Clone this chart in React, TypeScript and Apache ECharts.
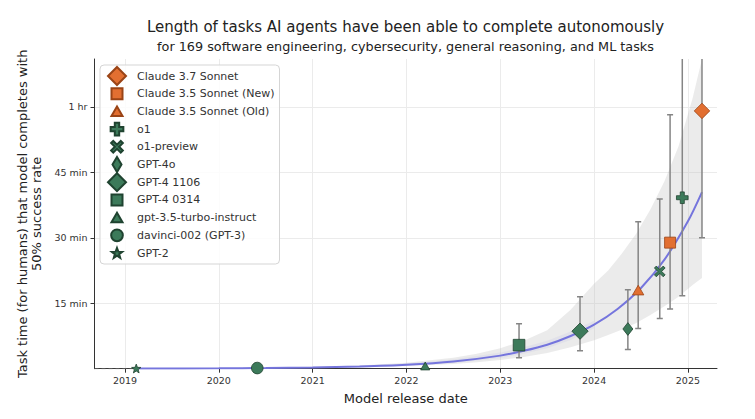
import React, { useEffect, useRef } from "react";
import * as echarts from "echarts";

// ---- data ----
const MODELS = [
  "Claude 3.7 Sonnet",
  "Claude 3.5 Sonnet (New)",
  "Claude 3.5 Sonnet (Old)",
  "o1",
  "o1-preview",
  "GPT-4o",
  "GPT-4 1106",
  "GPT-4 0314",
  "gpt-3.5-turbo-instruct",
  "davinci-002 (GPT-3)",
  "GPT-2",
];
const RELEASE = [2025.15, 2024.81, 2024.47, 2024.94, 2024.7, 2024.36, 2023.85, 2023.2, 2022.2, 2020.41, 2019.12];
const MINUTES = [59.1, 28.9, 18.0, 39.2, 22.3, 9.1, 8.6, 5.4, 0.6, 0.15, 0.04];
const CI_LOW: (number | null)[] = [30, 13.7, 9.2, 16.7, 11.5, 4.4, 4.1, 2.5, null, null, null];
const CI_HIGH: (number | null)[] = [150, 58.2, 33.7, 150, 38.9, 18.1, 16.5, 10.3, null, null, null];
const MAKER = ["anthropic", "anthropic", "anthropic", "openai", "openai", "openai", "openai", "openai", "openai", "openai", "openai"];

const TREND_DATES = [2019.12, 2020, 2020.5, 2021, 2021.5, 2022, 2022.5, 2023, 2023.25, 2023.5, 2023.75, 2024, 2024.25, 2024.5, 2024.75, 2025, 2025.15];
const TREND_MIN = [0.03, 0.08, 0.15, 0.27, 0.5, 0.9, 1.65, 3.0, 4.1, 5.5, 7.5, 10.1, 13.7, 18.5, 25, 33.8, 40.5];
const FIT_BAND_DATES = [2019.12, 2020, 2020.5, 2021, 2021.5, 2022, 2022.5, 2023, 2023.25, 2023.5, 2023.75, 2024];
const FIT_BAND_LOW = [0.02, 0.06, 0.11, 0.2, 0.38, 0.7, 1.3, 2.4, 3.4, 4.7, 6.6, 9.3];
const FIT_BAND_HIGH = [0.04, 0.1, 0.19, 0.35, 0.65, 1.2, 2.1, 3.7, 4.9, 6.4, 8.5, 11.0];
const EXTRAP_DATES = [2018.675, 2019.12];
const EXTRAP_MIN = [0.017, 0.03];

const BAND_DATES = [2018.675, 2019.5, 2020.5, 2021, 2021.5, 2022, 2022.5, 2022.75, 2023, 2023.25, 2023.5, 2023.75, 2024, 2024.15, 2024.3, 2024.45, 2024.6, 2024.75, 2024.9, 2025.05, 2025.15];
const BAND_LOW = [0.01, 0.02, 0.08, 0.15, 0.3, 0.6, 1.1, 1.5, 2.0, 2.7, 3.6, 4.9, 6.5, 7.7, 9.0, 10.5, 12.3, 14.3, 16.5, 19.2, 20.8];
const BAND_HIGH = [0.03, 0.08, 0.25, 0.45, 0.75, 1.35, 2.5, 3.4, 4.7, 6.4, 8.8, 13.5, 19.5, 22.5, 26.5, 31, 36.5, 43, 51, 62, 71];

const YEAR_TICKS = [2019, 2020, 2021, 2022, 2023, 2024, 2025];
const MINUTE_TICKS = [15, 30, 45, 60];

// ---- styling ----
const FONT = "DejaVu Sans";
const ORANGE = "#E26F31";
const ORANGE_EDGE = "#9a4416";
const GREEN = "#3C7A5A";
const GREEN_EDGE = "#1f4330";

// all marker paths live in a common 18x18 box so legend icons keep their relative sizes
const BOX = "M0,0M18,18";
const P_DIAMOND = `path://${BOX}M9,0L18,9L9,18L0,9Z`;
const P_RECT = `path://${BOX}M3.5,3.5H14.5V14.5H3.5Z`;
const P_TRI = `path://${BOX}M9,4.2L14.5,13.6L3.5,13.6Z`;
const P_PLUS = `path://${BOX}M6.8,2.65H11.2V6.8H15.35V11.2H11.2V15.35H6.8V11.2H2.65V6.8H6.8Z`;
const P_CROSS = `path://${BOX}M3.15,5.25L5.25,3.15L9,6.9L12.75,3.15L14.85,5.25L11.1,9L14.85,12.75L12.75,14.85L9,11.1L5.25,14.85L3.15,12.75L6.9,9Z`;
const P_THIN = `path://${BOX}M9,1.5L13.5,9L9,16.5L4.5,9Z`;
const P_CIRCLE = `path://${BOX}M3.15,9A5.85,5.85,0,1,1,14.85,9A5.85,5.85,0,1,1,3.15,9Z`;
const P_STAR = `path://${BOX}M9,4L10.35,7.64L14.22,7.8L11.18,10.21L12.23,13.95L9,11.79L5.77,13.95L6.82,10.21L3.78,7.8L7.65,7.64Z`;

const SYMBOLS = [P_DIAMOND, P_RECT, P_TRI, P_PLUS, P_CROSS, P_THIN, P_DIAMOND, P_RECT, P_TRI, P_CIRCLE, P_STAR];
const SIZES: any[] = [15.5, 18, 18.5, 16.5, 16.5, [20, 15.3], 16.3, 19, 15, 18, 16];

export default function App() {
  const ref = useRef<HTMLDivElement>(null);
  useEffect(() => {
    if (!ref.current) return;
    const chart = echarts.init(ref.current, undefined, { renderer: "svg" });

    const errData = MODELS.map((_, i) =>
      CI_LOW[i] == null ? null : [RELEASE[i], CI_LOW[i], CI_HIGH[i]]
    ).filter((d) => d != null);

    const bandSeries = (name: string, dates: number[], lo: number[], hi: number[], fill: string, z: number) => ({
      name,
      type: "custom",
      clip: true,
      silent: true,
      z,
      encode: { x: 0, y: [1, 2] },
      data: dates.map((d, i) => [d, lo[i], hi[i]]),
      renderItem: (params: any, api: any) => {
        if (params.dataIndex !== 0) return null;
        const upper = dates.map((d, i) => api.coord([d, hi[i]]));
        const lower = dates.map((d, i) => api.coord([d, lo[i]])).reverse();
        return {
          type: "polygon",
          shape: { points: upper.concat(lower) },
          style: { fill, stroke: "none" },
        };
      },
    });

    const scatterSeries = MODELS.map((name, i) => ({
      name,
      type: "scatter",
      symbol: SYMBOLS[i],
      symbolSize: SIZES[i],
      symbolKeepAspect: false,
      clip: true,
      z: 5,
      itemStyle: {
        color: MAKER[i] === "anthropic" ? ORANGE : GREEN,
        borderColor: MAKER[i] === "anthropic" ? ORANGE_EDGE : GREEN_EDGE,
        borderWidth: 0.8,
        opacity: 1,
      },
      data: [[RELEASE[i], MINUTES[i]]],
    }));

    const option: any = {
      animation: false,
      textStyle: { fontFamily: FONT },
      grid: { left: 94.5, right: 38, top: 59, bottom: 50.3, containLabel: false },
      graphic: [
        {
          type: "text",
          x: 405.5,
          y: 27,
          style: {
            text: "Length of tasks AI agents have been able to complete autonomously",
            textAlign: "center",
            textVerticalAlign: "middle",
            font: `15px "${FONT}"`,
            fill: "#222",
          },
        },
        {
          type: "text",
          x: 405.5,
          y: 46,
          style: {
            text: "for 169 software engineering, cybersecurity, general reasoning, and ML tasks",
            textAlign: "center",
            textVerticalAlign: "middle",
            font: `12.8px "${FONT}"`,
            fill: "#222",
          },
        },
      ],
      legend: {
        orient: "vertical",
        left: 100,
        top: 65,
        padding: [1, 5, 1, 7],
        itemWidth: 18,
        itemHeight: 18,
        itemGap: -2.3,
        backgroundColor: "rgba(255,255,255,0.85)",
        borderColor: "#d5d5d5",
        borderWidth: 1,
        borderRadius: 4,
        textStyle: { fontFamily: FONT, fontSize: 11, color: "#333", padding: [0, 0, 0, 6] },
        data: MODELS,
      },
      xAxis: {
        type: "value",
        min: 2018.675,
        max: 2025.31,
        name: "Model release date",
        nameLocation: "middle",
        nameGap: 23,
        nameTextStyle: { fontFamily: FONT, fontSize: 13, color: "#222" },
        axisLine: { show: true, onZero: false, lineStyle: { color: "#333", width: 1 } },
        axisTick: { show: true, length: 4, customValues: YEAR_TICKS, lineStyle: { color: "#333" } },
        axisLabel: {
          customValues: YEAR_TICKS,
          formatter: (v: number) => String(Math.round(v)),
          fontSize: 9.5,
          color: "#333",
          margin: 7,
          fontFamily: FONT,
        },
        splitLine: { show: true, lineStyle: { color: "#ebebeb", width: 1 } },
      },
      yAxis: {
        type: "value",
        min: 0,
        max: 71,
        name: "Task time (for humans) that model completes with\n50% success rate",
        nameLocation: "middle",
        nameGap: 50,
        nameTextStyle: { fontFamily: FONT, fontSize: 13, color: "#222", lineHeight: 14, align: "center" },
        axisLine: { show: true, lineStyle: { color: "#333", width: 1 } },
        axisTick: { show: true, length: 4, customValues: MINUTE_TICKS, lineStyle: { color: "#333" } },
        axisLabel: {
          customValues: MINUTE_TICKS,
          formatter: (v: number) => (v === 60 ? "1 hr" : `${v} min`),
          fontSize: 9.5,
          color: "#333",
          margin: 7,
          fontFamily: FONT,
        },
        splitLine: { show: true, lineStyle: { color: "#ebebeb", width: 1 } },
      },
      series: [
        bandSeries("ci-band", BAND_DATES, BAND_LOW, BAND_HIGH, "rgba(190,190,190,0.3)", 1),
        bandSeries("fit-band", FIT_BAND_DATES, FIT_BAND_LOW, FIT_BAND_HIGH, "rgba(130,130,225,0.09)", 1),
        {
          name: "trend",
          type: "line",
          symbol: "none",
          smooth: 0.3,
          silent: true,
          lineStyle: { color: "#7575DD", width: 2 },
          data: TREND_DATES.map((d, i) => [d, TREND_MIN[i]]),
          z: 2,
        },
        {
          name: "trend-extrap",
          type: "line",
          symbol: "none",
          silent: true,
          lineStyle: { color: "#555", width: 1.2, type: [4, 3] },
          data: EXTRAP_DATES.map((d, i) => [d, EXTRAP_MIN[i]]),
          z: 2,
        },
        {
          name: "errors",
          type: "custom",
          clip: true,
          silent: true,
          z: 3,
          encode: { x: 0, y: [1, 2] },
          data: errData,
          renderItem: (params: any, api: any) => {
            const x = api.value(0);
            const lo = api.coord([x, api.value(1)]);
            const hi = api.coord([x, api.value(2)]);
            const cap = 3;
            const style = { stroke: "#858585", lineWidth: 1.5 };
            return {
              type: "group",
              children: [
                { type: "line", shape: { x1: lo[0], y1: lo[1], x2: hi[0], y2: hi[1] }, style },
                { type: "line", shape: { x1: lo[0] - cap, y1: lo[1], x2: lo[0] + cap, y2: lo[1] }, style },
                { type: "line", shape: { x1: hi[0] - cap, y1: hi[1], x2: hi[0] + cap, y2: hi[1] }, style },
              ],
            };
          },
        },
        ...scatterSeries,
      ],
    };

    chart.setOption(option);
    return () => chart.dispose();
  }, []);

  return (
    <div
      ref={ref}
      style={{ position: "fixed", left: 0, top: 0, width: 755, height: 419, background: "#fff" }}
    />
  );
}
